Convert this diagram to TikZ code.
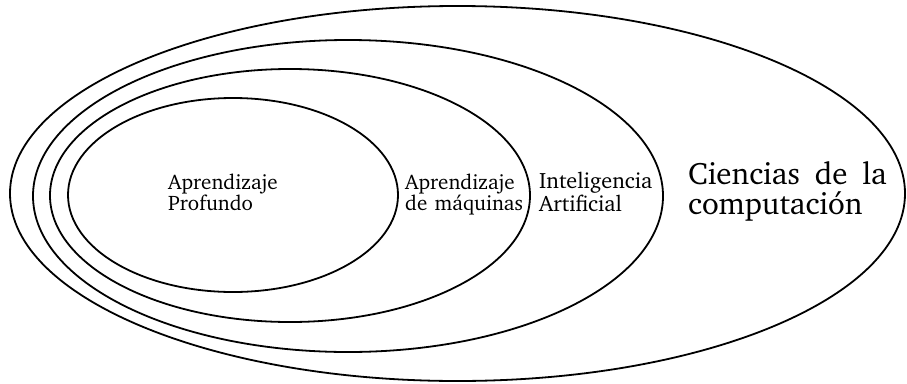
\documentclass[tikz,border=0pt]{standalone}
\usepackage[T1]{fontenc}
\usepackage{charter}
\begin{document}
\begin{tikzpicture}[x=1pt,y=-1pt,
  ring/.style={draw=black, line width=1.8pt},
  small/.style={inner sep=0pt, anchor=base west, font=\fontsize{21}{21}\selectfont},
  mid/.style={inner sep=0pt, anchor=base west, font=\fontsize{22.2}{22}\selectfont},
  big/.style={inner sep=0pt, anchor=base west, font=\fontsize{31}{28}\selectfont}]
\useasboundingbox (0,0) rectangle (907,383);
% nested sets, outermost first
\draw[ring] (457.5,193.5) ellipse [x radius=447.5, y radius=187.5];
\draw[ring] (348,196) ellipse [x radius=315, y radius=156];
\draw[ring] (290,195.5) ellipse [x radius=240, y radius=126.5];
\draw[ring] (233,195) ellipse [x radius=165, y radius=97];
% labels
\node[small] (dl1) at (168,189) {Aprendizaje};
\node[small] (dl2) at (168,210) {Profundo};
\node[small] (ml1) at (405,189) {Aprendizaje};
\node[small] (ml2) at (405,210) {de\hspace{0.35em}máquinas};
\node[mid] (ai1) at (539,188) {Inteligencia};
\node[mid] (ai2) at (539,211) {Artificial};
\node[big, text depth=0pt] (cs1) at (688,184) {Ciencias\hspace{0.48em}de\hspace{0.48em}la};
\node[big] (cs2) at (688,214) {computación};
\end{tikzpicture}
\end{document}
